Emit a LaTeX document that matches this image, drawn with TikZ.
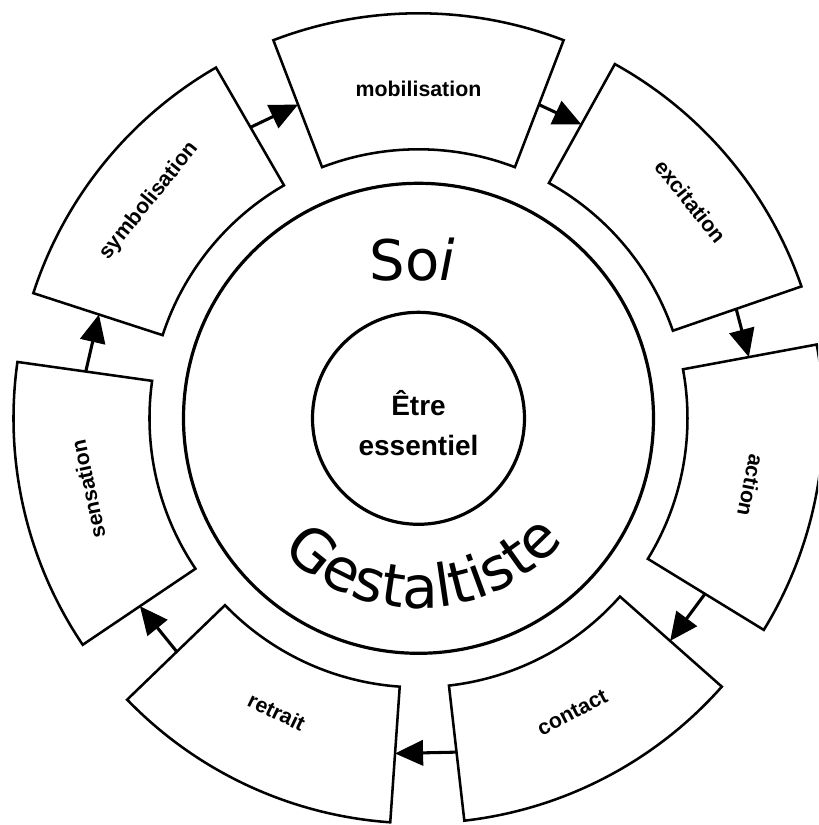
\documentclass[tikz,border=0pt]{standalone}
\usepackage{fontspec}
\setmainfont{Liberation Sans}
\newfontfamily\softfont{DejaVu Sans}
\usetikzlibrary{arrows.meta,decorations.text}
\begin{document}
\begin{tikzpicture}[x=0.75pt,y=0.75pt,
  seg/.style={draw=black, line width=1.9pt, fill=white, line join=miter},
  lab/.style={font=\fontsize{16pt}{18pt}\selectfont\bfseries, inner sep=0pt},
  flow/.style={line width=2.3pt, -{Triangle[length=21pt,width=19pt]}},
  ring/.style={circle, draw=black, line width=2.4pt, inner sep=0pt},
  core/.style={font=\fontsize{21pt}{30pt}\selectfont\bfseries, inner sep=0pt, anchor=base},
  big/.style={font=\softfont\fontsize{42pt}{50pt}\selectfont, inner sep=0pt, anchor=base}]
\clip (-418.5,-406.7) rectangle (399.5,418.3);
\useasboundingbox (-418.5,-406.7) rectangle (399.5,418.3);
% segments: name / centre angle / label angle / label radius / rotation
\foreach \nm/\a/\la/\lr/\rot in {
  mobilisation/90/90/329/0,
  excitation/40/38.6/348/-51.4,
  action/-10.5/-11.4/339/-101.4,
  contact/297.5/297.6/332/27.6,
  retrait/245/244.2/326/-25.8,
  sensation/193/192.1/338/102.1,
  symbolisation/141/141.1/346/51.1}{
  \draw[seg] (\a-21:405) arc[start angle=\a-21, end angle=\a+21, radius=405]
     -- (\a+21:269) arc[start angle=\a+21, end angle=\a-21, radius=269] -- cycle;
  \coordinate (\nm-cw) at (\a-21:336);
  \coordinate (\nm-ccw) at (\a+21:336);
  \node[lab, rotate=\rot] (\nm) at (\la:\lr) {\nm};
}
% arrows (clockwise cycle)
\draw[flow] (mobilisation-cw) -- (excitation-ccw);
\draw[flow] (excitation-cw) -- (action-ccw);
\draw[flow] (action-cw) -- (contact-ccw);
\draw[flow] (contact-cw) -- (retrait-ccw);
\draw[flow] (retrait-cw) -- (sensation-ccw);
\draw[flow] (sensation-cw) -- (symbolisation-ccw);
\draw[flow] (symbolisation-cw) -- (mobilisation-ccw);
% circles
\node[ring, minimum size=352.5pt] (soiring) at (0,0) {};
\node[ring, minimum size=159pt] (essence) at (0,0) {};
% texts
\node[core] (etre) at (0,3.3) {Être};
\node[core] (essentiel) at (0,-36.7) {essentiel};
\node[big] (soi) at (-6,137.3) {So{\itshape i}};
\path[decorate, decoration={text along path, text align=center,
   text={|\softfont\fontsize{44pt}{50pt}\selectfont|Gestaltiste}}]
   (202:190) arc[start angle=202, end angle=342, radius=190];
\end{tikzpicture}
\end{document}
